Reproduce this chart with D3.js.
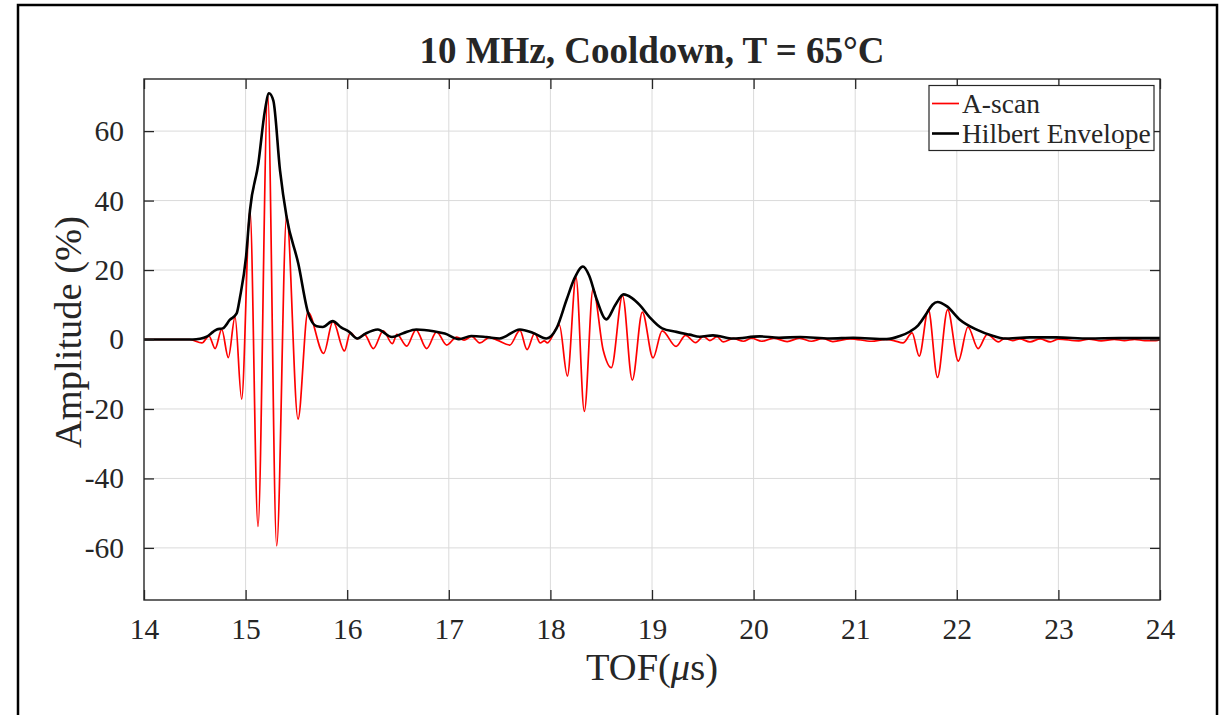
<!DOCTYPE html>
<html>
<head>
<meta charset="utf-8">
<script src="https://cdn.jsdelivr.net/npm/d3@7"></script>
<style>
  html, body { margin: 0; padding: 0; background: #fff; }
  svg { display: block; }
  text { font-family: "Liberation Serif", "Times New Roman", serif; fill: #262626; }
</style>
</head>
<body>
<svg id="chart" width="1220" height="715"></svg>
<script>
// ---- Data ----
const titleText = "10 MHz, Cooldown, T = 65°C";
const xTicks = [14, 15, 16, 17, 18, 19, 20, 21, 22, 23, 24];
const yTicks = [-60, -40, -20, 0, 20, 40, 60];
const xDomain = [14, 24];
const yDomain = [-75, 75];

// A-scan: extrema (time in µs, amplitude in %)
const ascanT = [
  14.0, 14.45, 14.57, 14.64, 14.70, 14.765, 14.83, 14.896, 14.961, 15.043,
  15.122, 15.218, 15.306, 15.404, 15.516, 15.613, 15.768, 15.86, 15.973, 16.03,
  16.10, 16.17, 16.257, 16.355, 16.444, 16.49, 16.585, 16.677, 16.782, 16.88,
  16.979, 17.078, 17.15, 17.225, 17.307, 17.40, 17.47, 17.60, 17.70, 17.77,
  17.845, 17.90, 17.94, 17.97, 18.088, 18.167, 18.252, 18.334, 18.42, 18.52,
  18.60, 18.71, 18.806, 18.905, 19.01, 19.10, 19.237, 19.33, 19.43, 19.505,
  19.57, 19.64, 19.70, 19.80, 19.90, 19.98, 20.08, 20.20, 20.33, 20.45,
  20.57, 20.68, 20.78, 20.95, 21.16, 21.30, 21.38, 21.47, 21.56, 21.63,
  21.72, 21.81, 21.91, 22.015, 22.11, 22.21, 22.30, 22.41, 22.47, 22.55,
  22.62, 22.72, 22.82, 22.92, 23.0, 23.2, 23.3, 23.42, 23.55, 23.65,
  23.75, 23.85, 23.96, 24.0
];
const ascanA = [
  0, 0, -1.0, 1.0, -2.6, 2.9, -5.2, 6.5, -17.2, 37.2,
  -53.8, 70.3, -59.4, 35.7, -22.9, 7.9, -4.0, 5.2, -3.3, 2.0,
  0.2, 1.5, -2.6, 2.5, -1.2, 1.5, -1.9, 2.8, -2.6, 2.2,
  -1.6, 0.7, -0.2, 0.9, -1.0, 0.6, -0.1, -1.6, 2.6, -2.9,
  1.8, -1.0, -0.4, -1.0, 4.2, -10.5, 17.8, -20.7, 14.6, -3.1,
  -8.1, 12.6, -11.7, 7.9, -5.3, 2.5, -2.0, 1.2, -0.9, 0.9,
  -0.3, 0.8, -0.7, 0.3, -0.5, 0.4, -0.5, 0.4, -0.6, 0.4,
  -0.5, 0.3, -0.6, 0.2, -0.5, 0.0, -0.3, -1.0, 1.9, -4.8,
  8.6, -10.9, 8.6, -6.2, 3.6, -2.6, 1.5, -0.7, 0.3, -0.3,
  0.2, -0.7, 0.2, -0.7, 0.1, -0.4, 0.1, -0.4, 0.0, -0.3,
  0.0, -0.3, -0.3, 0.0
];

// Hilbert envelope (time in µs, amplitude in %)
const envT = [
  14.0, 14.48, 14.55, 14.617, 14.68, 14.716, 14.775, 14.846, 14.912, 14.945,
  15.004, 15.043, 15.125, 15.19, 15.23, 15.273, 15.339, 15.404, 15.519, 15.617,
  15.70, 15.76, 15.857, 15.94, 16.02, 16.10, 16.18, 16.30, 16.44, 16.55,
  16.68, 16.85, 16.96, 17.10, 17.22, 17.37, 17.50, 17.70, 17.83, 17.96,
  18.06, 18.16, 18.24, 18.32, 18.38, 18.456, 18.55, 18.64, 18.72, 18.80,
  18.88, 18.98, 19.10, 19.24, 19.37, 19.47, 19.60, 19.80, 20.06, 20.25,
  20.46, 20.75, 20.98, 21.31, 21.44, 21.54, 21.62, 21.70, 21.76, 21.81,
  21.90, 22.03, 22.19, 22.36, 22.46, 22.72, 22.98, 23.3, 23.6, 24.0
];
const envA = [
  0, 0, 0.2, 0.8, 2.2, 2.9, 3.2, 5.7, 7.5, 12.2,
  23.7, 37.2, 50.6, 65.9, 70.9, 68.8, 48.6, 35.2, 21.8, 7.5,
  3.8, 3.6, 5.3, 3.5, 2.2, 0.3, 1.7, 2.9, 0.7, 1.8,
  2.9, 2.4, 1.7, 0.1, 1.0, 0.7, 0.3, 2.9, 1.9, 0.3,
  3.2, 11.5, 17.8, 21.0, 18.5, 11.5, 5.8, 10.0, 13.0, 12.0,
  9.9, 6.3, 3.2, 2.2, 1.4, 0.8, 1.2, 0.3, 0.9, 0.5,
  0.7, 0.3, 0.5, 0.1, 1.0, 2.3, 4.1, 7.4, 10.0, 10.8,
  9.6, 5.7, 2.9, 1.0, 0.3, 0.6, 0.6, 0.3, 0.4, 0.4
];

const seriesNames = ["A-scan", "Hilbert Envelope"];
const seriesColors = ["#ff0000", "#000000"];

// ---- Layout ----
const svg = d3.select("#chart");
const M = { left: 144, top: 79, right: 1160, bottom: 600 };
const axisColor = "#262626";

// outer frame
svg.append("rect")
  .attr("x", 18).attr("y", 5).attr("width", 1199).attr("height", 730)
  .attr("fill", "none").attr("stroke", "#000").attr("stroke-width", 2.5);

const x = d3.scaleLinear().domain(xDomain).range([M.left, M.right]);
const y = d3.scaleLinear().domain(yDomain).range([M.bottom, M.top]);

// plot background
svg.append("rect")
  .attr("x", M.left).attr("y", M.top)
  .attr("width", M.right - M.left).attr("height", M.bottom - M.top)
  .attr("fill", "#fff");

// grid
const grid = svg.append("g").attr("stroke", "#dadada").attr("stroke-width", 1);
grid.selectAll("line.gx").data(xTicks.slice(1, -1)).enter().append("line")
  .attr("x1", d => x(d)).attr("x2", d => x(d))
  .attr("y1", M.top).attr("y2", M.bottom);
grid.selectAll("line.gy").data(yTicks).enter().append("line")
  .attr("y1", d => y(d)).attr("y2", d => y(d))
  .attr("x1", M.left).attr("x2", M.right);

// clip
svg.append("defs").append("clipPath").attr("id", "clip")
  .append("rect").attr("x", M.left).attr("y", M.top)
  .attr("width", M.right - M.left).attr("height", M.bottom - M.top);

const ascan = ascanT.map((t, i) => [t, ascanA[i]]);
const env = envT.map((t, i) => [t, envA[i]]);

const line = d3.line().x(d => x(d[0])).y(d => y(d[1])).curve(d3.curveMonotoneX);

const plot = svg.append("g").attr("clip-path", "url(#clip)");
plot.append("path").datum(ascan)
  .attr("d", line).attr("fill", "none")
  .attr("stroke", seriesColors[0]).attr("stroke-width", 1.7)
  .attr("stroke-linejoin", "round");
plot.append("path").datum(env)
  .attr("d", line).attr("fill", "none")
  .attr("stroke", seriesColors[1]).attr("stroke-width", 2.6)
  .attr("stroke-linejoin", "round");

// axes (box with inward ticks)
const tickLen = 10;
const fmt = d => String(d).replace("\u2212", "-");
function styleAxis(g) {
  g.select(".domain").remove();
  g.selectAll(".tick line").attr("stroke", axisColor).attr("stroke-width", 1.3);
  g.selectAll(".tick text").attr("fill", axisColor)
    .style("font-family", '"Liberation Serif", serif').style("font-size", "29.5px");
}
const gxB = svg.append("g").attr("transform", `translate(0,${M.bottom})`)
  .call(d3.axisBottom(x).tickValues(xTicks).tickSize(-tickLen).tickPadding(18).tickFormat(fmt));
styleAxis(gxB);
const gxT = svg.append("g").attr("transform", `translate(0,${M.top})`)
  .call(d3.axisTop(x).tickValues(xTicks).tickSize(-tickLen).tickFormat(""));
styleAxis(gxT);
const gyL = svg.append("g").attr("transform", `translate(${M.left},0)`)
  .call(d3.axisLeft(y).tickValues(yTicks).tickSize(-tickLen).tickPadding(20).tickFormat(fmt));
styleAxis(gyL);
const gyR = svg.append("g").attr("transform", `translate(${M.right},0)`)
  .call(d3.axisRight(y).tickValues(yTicks).tickSize(-tickLen).tickFormat(""));
styleAxis(gyR);

svg.append("rect")
  .attr("x", M.left).attr("y", M.top)
  .attr("width", M.right - M.left).attr("height", M.bottom - M.top)
  .attr("fill", "none").attr("stroke", axisColor).attr("stroke-width", 1.4);

// title
svg.append("text")
  .attr("x", 652).attr("y", 63).attr("text-anchor", "middle")
  .style("font-size", "37px").style("font-weight", "bold").attr("fill", "#000")
  .text(titleText);

// x label
const xl = svg.append("text")
  .attr("x", 652).attr("y", 680).attr("text-anchor", "middle")
  .style("font-size", "38.5px").attr("fill", axisColor);
xl.append("tspan").text("TOF(");
xl.append("tspan").style("font-style", "italic").text("\u03bc");
xl.append("tspan").text("s)");

// y label
svg.append("text")
  .attr("transform", `translate(81,332) rotate(-90)`).attr("text-anchor", "middle")
  .style("font-size", "38.5px").attr("fill", axisColor)
  .text("Amplitude (%)");

// legend
const lg = svg.append("g");
lg.append("rect").attr("x", 929).attr("y", 85.5).attr("width", 225).attr("height", 65)
  .attr("fill", "#fff").attr("stroke", axisColor).attr("stroke-width", 1.2);
const legendRows = [103.5, 133.5];
seriesNames.forEach((name, i) => {
  lg.append("line").attr("x1", 932).attr("x2", 959)
    .attr("y1", legendRows[i]).attr("y2", legendRows[i])
    .attr("stroke", seriesColors[i]).attr("stroke-width", i === 0 ? 1.7 : 2.6);
  lg.append("text").attr("x", 962).attr("y", legendRows[i] + 9.5)
    .style("font-size", "27.5px").attr("fill", "#000").text(name);
});
</script>
</body>
</html>
